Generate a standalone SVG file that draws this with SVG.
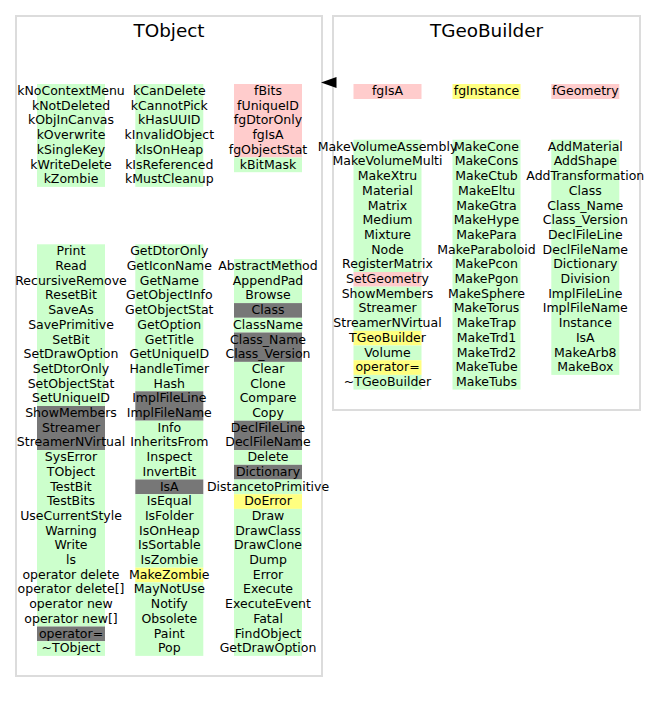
<svg xmlns="http://www.w3.org/2000/svg" width="656" height="703" viewBox="0 0 656 703">
  <style>
    .frame { fill: #ffffff; stroke: #dcdcdc; stroke-width: 2; }
    .title { font-family: "DejaVu Sans", "Liberation Sans", sans-serif; font-size: 18.4px; text-anchor: middle; fill: #000; }
    .m { font-family: "DejaVu Sans", "Liberation Sans", sans-serif; font-size: 12.5px; text-anchor: middle; fill: #000; }
    .g { fill: #ccffcc; }
    .r { fill: #ffcccc; }
    .y { fill: #ffff80; }
    .k { fill: #777777; }
    .arrow { fill: #000; }
  </style>

  <!-- TObject class box -->
  <g id="TObject">
    <rect class="frame" x="16" y="16" width="306" height="660"/>
    <text class="title" x="169" y="36.5">TObject</text>

    <!-- enum constants and data members -->
    <rect class="g" x="37" y="84" width="68" height="102.9"/>
    <rect class="g" x="135.3" y="84" width="68" height="102.9"/>
    <rect class="r" x="234" y="84" width="68" height="73.5"/>
    <rect class="g" x="234" y="157.5" width="68" height="14.7"/>
    <g class="m">
      <text x="71" y="95">kNoContextMenu</text>
      <text x="71" y="109.7">kNotDeleted</text>
      <text x="71" y="124.4">kObjInCanvas</text>
      <text x="71" y="139.1">kOverwrite</text>
      <text x="71" y="153.8">kSingleKey</text>
      <text x="71" y="168.5">kWriteDelete</text>
      <text x="71" y="183.2">kZombie</text>
      <text x="169.3" y="95">kCanDelete</text>
      <text x="169.3" y="109.7">kCannotPick</text>
      <text x="169.3" y="124.4">kHasUUID</text>
      <text x="169.3" y="139.1">kInvalidObject</text>
      <text x="169.3" y="153.8">kIsOnHeap</text>
      <text x="169.3" y="168.5">kIsReferenced</text>
      <text x="169.3" y="183.2">kMustCleanup</text>
      <text x="268" y="95">fBits</text>
      <text x="268" y="109.7">fUniqueID</text>
      <text x="268" y="124.4">fgDtorOnly</text>
      <text x="268" y="139.1">fgIsA</text>
      <text x="268" y="153.8">fgObjectStat</text>
      <text x="268" y="168.5">kBitMask</text>
    </g>

    <!-- method column 1 -->
    <rect class="g" x="37" y="244.3" width="68" height="161.7"/>
    <rect class="k" x="37" y="406" width="68" height="44.1"/>
    <rect class="g" x="37" y="450.1" width="68" height="176.4"/>
    <rect class="k" x="37" y="626.5" width="68" height="14.7"/>
    <rect class="g" x="37" y="641.2" width="68" height="14.7"/>
    <!-- method column 2 -->
    <rect class="g" x="135.3" y="244.3" width="68" height="147"/>
    <rect class="k" x="135.3" y="391.3" width="68" height="29.4"/>
    <rect class="g" x="135.3" y="420.7" width="68" height="58.8"/>
    <rect class="k" x="135.3" y="479.5" width="68" height="14.7"/>
    <rect class="g" x="135.3" y="494.2" width="68" height="73.5"/>
    <rect class="y" x="135.3" y="567.7" width="68" height="14.7"/>
    <rect class="g" x="135.3" y="582.4" width="68" height="73.5"/>
    <!-- method column 3 -->
    <rect class="g" x="234" y="259" width="68" height="44.1"/>
    <rect class="k" x="234" y="303.1" width="68" height="14.7"/>
    <rect class="g" x="234" y="317.8" width="68" height="14.7"/>
    <rect class="k" x="234" y="332.5" width="68" height="29.4"/>
    <rect class="g" x="234" y="361.9" width="68" height="58.8"/>
    <rect class="k" x="234" y="420.7" width="68" height="29.4"/>
    <rect class="g" x="234" y="450.1" width="68" height="14.7"/>
    <rect class="k" x="234" y="464.8" width="68" height="14.7"/>
    <rect class="g" x="234" y="479.5" width="68" height="14.7"/>
    <rect class="y" x="234" y="494.2" width="68" height="14.7"/>
    <rect class="g" x="234" y="508.9" width="68" height="147"/>

    <g class="m">
      <text x="71" y="255.3">Print</text>
      <text x="71" y="270">Read</text>
      <text x="71" y="284.7">RecursiveRemove</text>
      <text x="71" y="299.4">ResetBit</text>
      <text x="71" y="314.1">SaveAs</text>
      <text x="71" y="328.8">SavePrimitive</text>
      <text x="71" y="343.5">SetBit</text>
      <text x="71" y="358.2">SetDrawOption</text>
      <text x="71" y="372.9">SetDtorOnly</text>
      <text x="71" y="387.6">SetObjectStat</text>
      <text x="71" y="402.3">SetUniqueID</text>
      <text x="71" y="417">ShowMembers</text>
      <text x="71" y="431.7">Streamer</text>
      <text x="71" y="446.4">StreamerNVirtual</text>
      <text x="71" y="461.1">SysError</text>
      <text x="71" y="475.8">TObject</text>
      <text x="71" y="490.5">TestBit</text>
      <text x="71" y="505.2">TestBits</text>
      <text x="71" y="519.9">UseCurrentStyle</text>
      <text x="71" y="534.6">Warning</text>
      <text x="71" y="549.3">Write</text>
      <text x="71" y="564">ls</text>
      <text x="71" y="578.7">operator delete</text>
      <text x="71" y="593.4">operator delete[]</text>
      <text x="71" y="608.1">operator new</text>
      <text x="71" y="622.8">operator new[]</text>
      <text x="71" y="637.5">operator=</text>
      <text x="71" y="652.2">~TObject</text>

      <text x="169.3" y="255.3">GetDtorOnly</text>
      <text x="169.3" y="270">GetIconName</text>
      <text x="169.3" y="284.7">GetName</text>
      <text x="169.3" y="299.4">GetObjectInfo</text>
      <text x="169.3" y="314.1">GetObjectStat</text>
      <text x="169.3" y="328.8">GetOption</text>
      <text x="169.3" y="343.5">GetTitle</text>
      <text x="169.3" y="358.2">GetUniqueID</text>
      <text x="169.3" y="372.9">HandleTimer</text>
      <text x="169.3" y="387.6">Hash</text>
      <text x="169.3" y="402.3">ImplFileLine</text>
      <text x="169.3" y="417">ImplFileName</text>
      <text x="169.3" y="431.7">Info</text>
      <text x="169.3" y="446.4">InheritsFrom</text>
      <text x="169.3" y="461.1">Inspect</text>
      <text x="169.3" y="475.8">InvertBit</text>
      <text x="169.3" y="490.5">IsA</text>
      <text x="169.3" y="505.2">IsEqual</text>
      <text x="169.3" y="519.9">IsFolder</text>
      <text x="169.3" y="534.6">IsOnHeap</text>
      <text x="169.3" y="549.3">IsSortable</text>
      <text x="169.3" y="564">IsZombie</text>
      <text x="169.3" y="578.7">MakeZombie</text>
      <text x="169.3" y="593.4">MayNotUse</text>
      <text x="169.3" y="608.1">Notify</text>
      <text x="169.3" y="622.8">Obsolete</text>
      <text x="169.3" y="637.5">Paint</text>
      <text x="169.3" y="652.2">Pop</text>

      <text x="268" y="270">AbstractMethod</text>
      <text x="268" y="284.7">AppendPad</text>
      <text x="268" y="299.4">Browse</text>
      <text x="268" y="314.1">Class</text>
      <text x="268" y="328.8">ClassName</text>
      <text x="268" y="343.5">Class_Name</text>
      <text x="268" y="358.2">Class_Version</text>
      <text x="268" y="372.9">Clear</text>
      <text x="268" y="387.6">Clone</text>
      <text x="268" y="402.3">Compare</text>
      <text x="268" y="417">Copy</text>
      <text x="268" y="431.7">DeclFileLine</text>
      <text x="268" y="446.4">DeclFileName</text>
      <text x="268" y="461.1">Delete</text>
      <text x="268" y="475.8">Dictionary</text>
      <text x="268" y="490.5">DistancetoPrimitive</text>
      <text x="268" y="505.2">DoError</text>
      <text x="268" y="519.9">Draw</text>
      <text x="268" y="534.6">DrawClass</text>
      <text x="268" y="549.3">DrawClone</text>
      <text x="268" y="564">Dump</text>
      <text x="268" y="578.7">Error</text>
      <text x="268" y="593.4">Execute</text>
      <text x="268" y="608.1">ExecuteEvent</text>
      <text x="268" y="622.8">Fatal</text>
      <text x="268" y="637.5">FindObject</text>
      <text x="268" y="652.2">GetDrawOption</text>
    </g>
  </g>

  <!-- TGeoBuilder class box -->
  <g id="TGeoBuilder">
    <rect class="frame" x="333" y="16" width="307" height="394"/>
    <text class="title" x="486.5" y="36.5">TGeoBuilder</text>

    <!-- data members -->
    <rect class="r" x="353.5" y="84" width="68" height="15"/>
    <rect class="y" x="452.5" y="84" width="68" height="15"/>
    <rect class="r" x="551.3" y="84" width="68" height="15"/>

    <!-- methods -->
    <rect class="g" x="353.5" y="139.7" width="68" height="132.3"/>
    <rect class="r" x="353.5" y="272" width="68" height="14.7"/>
    <rect class="g" x="353.5" y="286.7" width="68" height="44.1"/>
    <rect class="y" x="353.5" y="330.8" width="68" height="14.7"/>
    <rect class="g" x="353.5" y="345.5" width="68" height="14.7"/>
    <rect class="y" x="353.5" y="360.2" width="68" height="14.7"/>
    <rect class="g" x="353.5" y="374.9" width="68" height="14.7"/>
    <rect class="g" x="452.5" y="139.7" width="68" height="249.9"/>
    <rect class="g" x="551.3" y="139.7" width="68" height="235.2"/>

    <g class="m">
      <text x="387.5" y="95">fgIsA</text>
      <text x="486.5" y="95">fgInstance</text>
      <text x="585.3" y="95">fGeometry</text>

      <text x="387.5" y="150.7">MakeVolumeAssembly</text>
      <text x="387.5" y="165.4">MakeVolumeMulti</text>
      <text x="387.5" y="180.1">MakeXtru</text>
      <text x="387.5" y="194.8">Material</text>
      <text x="387.5" y="209.5">Matrix</text>
      <text x="387.5" y="224.2">Medium</text>
      <text x="387.5" y="238.9">Mixture</text>
      <text x="387.5" y="253.6">Node</text>
      <text x="387.5" y="268.3">RegisterMatrix</text>
      <text x="387.5" y="283">SetGeometry</text>
      <text x="387.5" y="297.7">ShowMembers</text>
      <text x="387.5" y="312.4">Streamer</text>
      <text x="387.5" y="327.1">StreamerNVirtual</text>
      <text x="387.5" y="341.8">TGeoBuilder</text>
      <text x="387.5" y="356.5">Volume</text>
      <text x="387.5" y="371.2">operator=</text>
      <text x="387.5" y="385.9">~TGeoBuilder</text>

      <text x="486.5" y="150.7">MakeCone</text>
      <text x="486.5" y="165.4">MakeCons</text>
      <text x="486.5" y="180.1">MakeCtub</text>
      <text x="486.5" y="194.8">MakeEltu</text>
      <text x="486.5" y="209.5">MakeGtra</text>
      <text x="486.5" y="224.2">MakeHype</text>
      <text x="486.5" y="238.9">MakePara</text>
      <text x="486.5" y="253.6">MakeParaboloid</text>
      <text x="486.5" y="268.3">MakePcon</text>
      <text x="486.5" y="283">MakePgon</text>
      <text x="486.5" y="297.7">MakeSphere</text>
      <text x="486.5" y="312.4">MakeTorus</text>
      <text x="486.5" y="327.1">MakeTrap</text>
      <text x="486.5" y="341.8">MakeTrd1</text>
      <text x="486.5" y="356.5">MakeTrd2</text>
      <text x="486.5" y="371.2">MakeTube</text>
      <text x="486.5" y="385.9">MakeTubs</text>

      <text x="585.3" y="150.7">AddMaterial</text>
      <text x="585.3" y="165.4">AddShape</text>
      <text x="585.3" y="180.1">AddTransformation</text>
      <text x="585.3" y="194.8">Class</text>
      <text x="585.3" y="209.5">Class_Name</text>
      <text x="585.3" y="224.2">Class_Version</text>
      <text x="585.3" y="238.9">DeclFileLine</text>
      <text x="585.3" y="253.6">DeclFileName</text>
      <text x="585.3" y="268.3">Dictionary</text>
      <text x="585.3" y="283">Division</text>
      <text x="585.3" y="297.7">ImplFileLine</text>
      <text x="585.3" y="312.4">ImplFileName</text>
      <text x="585.3" y="327.1">Instance</text>
      <text x="585.3" y="341.8">IsA</text>
      <text x="585.3" y="356.5">MakeArb8</text>
      <text x="585.3" y="371.2">MakeBox</text>
    </g>
  </g>

  <!-- inheritance: TGeoBuilder derives from TObject -->
  <g id="connectors">
    <polygon class="arrow" points="321,82.5 336.5,77 336.5,88"/>
  </g>
</svg>
